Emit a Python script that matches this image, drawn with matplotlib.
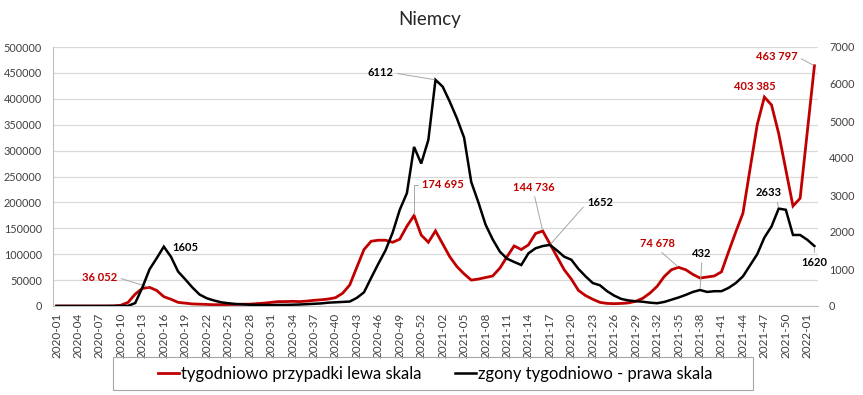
import matplotlib
matplotlib.use("Agg")
import matplotlib.pyplot as plt
from matplotlib.patches import Rectangle
from matplotlib.ticker import FuncFormatter, MultipleLocator

plt.rcParams["font.family"] = ["Lato", "DejaVu Sans"]

# ISO weeks 2020-01 .. 2022-02 (2020 has 53 weeks)
WEEKS = ([f"2020-{w:02d}" for w in range(1, 54)]
         + [f"2021-{w:02d}" for w in range(1, 53)]
         + ["2022-01", "2022-02"])

CASES = [
    0, 0, 0, 0, 0, 0, 0, 50, 200, 1500,
    7000, 23000, 34000, 36052, 30000, 18000, 13000, 7000, 5500, 4000,
    3500, 3000, 2500, 2500, 2800, 3000, 3500, 3500, 4500, 5500,
    7000, 8500, 8500, 9000, 8500, 9500, 11000, 12000, 13500, 16000,
    24500, 40500, 75000, 109000, 125000, 127000, 127000, 123000, 129000, 154000,
    174695, 137000, 123000, 145000, 120000, 95000, 76000, 62000, 50000, 52000,
    55000, 58000, 73000, 95000, 116000, 109000, 118000, 140000, 144736, 120000,
    95000, 70000, 52000, 30000, 20000, 13000, 7000, 5000, 4500, 5000,
    6000, 9000, 15000, 25000, 38000, 57000, 70000, 74678, 70000, 61000,
    54000, 56000, 58000, 66000, 105000, 143000, 179000, 265000, 350000, 403385,
    388000, 333000, 263000, 193000, 208000, 336000, 463797,
]

DEATHS = [
    0, 0, 0, 0, 0, 0, 0, 0, 0, 0,
    5, 80, 500, 990, 1290, 1605, 1330, 930, 720, 500,
    310, 210, 150, 100, 75, 55, 45, 35, 30, 25,
    25, 30, 30, 35, 40, 50, 60, 70, 90, 100,
    110, 120, 220, 370, 760, 1140, 1500, 1980, 2600, 3050,
    4300, 3850, 4490, 6112, 5930, 5520, 5070, 4550, 3350, 2800,
    2200, 1800, 1470, 1280, 1190, 1108, 1424, 1560, 1620, 1652,
    1500, 1333, 1250, 1000, 800, 620, 560, 400, 280, 190,
    150, 130, 115, 90, 75, 110, 170, 230, 300, 380,
    432, 380, 400, 400, 490, 620, 800, 1100, 1400, 1850,
    2150, 2633, 2600, 1920, 1920, 1790, 1620,
]

CASE_LABEL = "tygodniowo przypadki lewa skala"
DEATH_LABEL = "zgony tygodniowo - prawa skala"

RED = "#C00000"
GRID = "#D9D9D9"
LEADER = "#A6A6A6"

W, H = 863, 395
fig = plt.figure(figsize=(W / 100, H / 100), dpi=100)
ax = fig.add_axes([53 / W, 1 - 306 / H, (818 - 53) / W, (306 - 47) / H])
ax2 = ax.twinx()

x = list(range(len(WEEKS)))
ax.plot(x, CASES, color=RED, linewidth=2.0, label=CASE_LABEL, solid_joinstyle="miter")
ax2.plot(x, DEATHS, color="black", linewidth=1.8, label=DEATH_LABEL, solid_joinstyle="miter")

ax.set_xlim(-0.5, len(WEEKS) - 0.5)
ax.set_ylim(0, 500000)
ax2.set_ylim(0, 7000)
ax.yaxis.set_major_locator(MultipleLocator(50000))
ax2.yaxis.set_major_locator(MultipleLocator(1000))
ax.yaxis.set_major_formatter(FuncFormatter(lambda v, p: f"{v:.0f}"))
ax2.yaxis.set_major_formatter(FuncFormatter(lambda v, p: f"{v:.0f}"))

ax.set_xticks(x[::3])
ax.set_xticklabels(WEEKS[::3], rotation=90, fontsize=8.5, color="#404040")
ax.tick_params(axis="x", length=0, pad=5)
ax.tick_params(axis="y", length=0, pad=8, labelsize=7.8, labelcolor="#404040")
ax2.tick_params(axis="y", length=0, pad=8, labelsize=7.8, labelcolor="#404040")

ax.grid(True, axis="y", color=GRID, linewidth=0.9)
ax.set_axisbelow(True)
for a in (ax, ax2):
    for side in ("top", "right"):
        a.spines[side].set_visible(False)
    a.spines["left"].set_visible(a is ax)
    a.spines["bottom"].set_visible(a is ax)
ax.spines["left"].set_color("#BFBFBF")
ax.spines["bottom"].set_color("#BFBFBF")

fig.text(430 / W, 1 - 20 / H, "Niemcy", ha="center", va="center", fontsize=13.5, color="#262626")


def label(axis, idx, value, text, color, dx, dy, relpos=None, conn="arc3"):
    props = None
    if relpos is not None:
        props = dict(arrowstyle="-", color=LEADER, linewidth=0.7, relpos=relpos,
                     shrinkA=1, shrinkB=1, connectionstyle=conn)
    axis.annotate(text, xy=(idx, value), xytext=(dx, dy), textcoords="offset pixels",
                  ha="center", va="center", fontsize=8, fontweight="bold", color=color,
                  arrowprops=props, annotation_clip=False)


label(ax, 13, CASES[13], "36 052", RED, -50, 10, (1, 0.5))
label(ax2, 15, DEATHS[15], "1605", "black", 22, -1)
label(ax2, 53, DEATHS[53], "6112", "black", -55, 7, (1, 0.5))
label(ax, 50, CASES[50], "174 695", RED, 29, 31, (0, 0.5), "angle,angleA=0,angleB=90,rad=0")
label(ax, 68, CASES[68], "144 736", RED, -9, 44, (0.5, 0))
label(ax2, 69, DEATHS[69], "1652", "black", 50, 42, (0, 0.5))
label(ax, 87, CASES[87], "74 678", RED, -21, 24, (0.5, 0))
label(ax2, 90, DEATHS[90], "432", "black", 2, 37, (0.5, 0))
label(ax, 99, CASES[99], "403 385", RED, -10, 11)
label(ax2, 101, DEATHS[101], "2633", "black", -10, 16, (0.8, 0))
label(ax2, 106, DEATHS[106], "1620", "black", 0, -16, (0.5, 1))
label(ax, 106, CASES[106], "463 797", RED, -38, 9, (1, 0.5))

h1, l1 = ax.get_legend_handles_labels()
h2, l2 = ax2.get_legend_handles_labels()
fig.legend(h1 + h2, l1 + l2, loc="center", bbox_to_anchor=(435 / W, 1 - 373.5 / H),
           ncol=2, frameon=False, fontsize=12, handlelength=1.3, handletextpad=0.1,
           columnspacing=2.0)
fig.patches.append(Rectangle((113 / W, 1 - 390 / H), 640 / W, 33 / H, transform=fig.transFigure,
                             fill=False, edgecolor="#A6A6A6", linewidth=0.8))

fig.savefig("out.png", dpi=100)
